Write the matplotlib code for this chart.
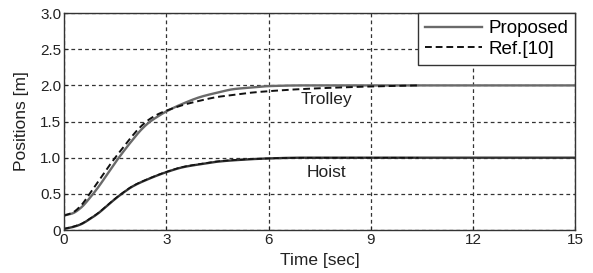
import matplotlib
matplotlib.use("Agg")
import matplotlib.pyplot as plt
import numpy as np

plt.rcParams['font.family'] = ['Liberation Sans', 'DejaVu Sans']

# Trolley - proposed
t_trolley_prop = [0, 0.25, 0.5, 0.75, 1, 1.25, 1.5, 1.75, 2, 2.25, 2.5, 2.75, 3, 3.5, 4, 4.5, 5, 5.5, 6, 7, 15]
y_trolley_prop = [0.2, 0.23, 0.31, 0.44, 0.59, 0.76, 0.93, 1.09, 1.24, 1.38, 1.49, 1.57, 1.64, 1.75, 1.84, 1.9, 1.95, 1.97, 1.99, 2.0, 2.0]
# Trolley - Ref.[10]
t_trolley_ref = [0, 0.25, 0.5, 0.75, 1, 1.25, 1.5, 1.75, 2, 2.25, 2.5, 2.75, 3, 3.5, 4, 4.5, 5, 5.5, 6, 7, 8, 9, 10.4]
y_trolley_ref = [0.2, 0.24, 0.34, 0.5, 0.67, 0.84, 1.0, 1.15, 1.3, 1.43, 1.53, 1.6, 1.65, 1.73, 1.79, 1.84, 1.87, 1.9, 1.92, 1.95, 1.97, 1.985, 2.0]
# Hoist - proposed
t_hoist_prop = [0, 0.25, 0.5, 0.75, 1, 1.25, 1.5, 1.75, 2, 2.5, 3, 3.5, 4, 4.5, 5, 6, 7, 15]
y_hoist_prop = [0.015, 0.04, 0.08, 0.15, 0.23, 0.33, 0.43, 0.52, 0.6, 0.71, 0.8, 0.87, 0.91, 0.945, 0.965, 0.99, 1.0, 1.0]
# Hoist - Ref.[10]
t_hoist_ref = [0, 0.25, 0.5, 0.75, 1, 1.25, 1.5, 1.75, 2, 2.5, 3, 3.5, 4, 4.5, 5, 6, 7, 10.4]
y_hoist_ref = [0.015, 0.045, 0.085, 0.155, 0.235, 0.335, 0.435, 0.525, 0.605, 0.715, 0.805, 0.875, 0.915, 0.95, 0.97, 0.99, 1.0, 1.0]

x_ticks = [0, 3, 6, 9, 12, 15]
y_ticks = [0, 0.5, 1.0, 1.5, 2.0, 2.5, 3.0]
y_ticklabels = ['0', '0.5', '1.0', '1.5', '2.0', '2.5', '3.0']


def smooth(t, y, n=500):
    t = np.asarray(t, float)
    y = np.asarray(y, float)
    tt = np.linspace(t[0], t[-1], n)
    h = np.diff(t)
    d = np.diff(y) / h
    m = np.zeros_like(y)
    m[0], m[-1] = d[0], d[-1]
    for i in range(1, len(y) - 1):
        if d[i - 1] * d[i] <= 0:
            m[i] = 0
        else:
            w1 = 2 * h[i] + h[i - 1]
            w2 = h[i] + 2 * h[i - 1]
            m[i] = (w1 + w2) / (w1 / d[i - 1] + w2 / d[i])
    idx = np.clip(np.searchsorted(t, tt) - 1, 0, len(t) - 2)
    hh = h[idx]
    s = (tt - t[idx]) / hh
    h00 = 2 * s**3 - 3 * s**2 + 1
    h10 = s**3 - 2 * s**2 + s
    h01 = -2 * s**3 + 3 * s**2
    h11 = s**3 - s**2
    yy = h00 * y[idx] + h10 * hh * m[idx] + h01 * y[idx + 1] + h11 * hh * m[idx + 1]
    return tt, yy


fig = plt.figure(figsize=(5.93, 2.73), dpi=100)
ax = fig.add_axes([0.108, 0.1575, 0.862, 0.7945])

l1, = ax.plot(*smooth(t_trolley_prop, y_trolley_prop), color='#6a6a6a', lw=1.7, label='Proposed')
l2, = ax.plot(*smooth(t_trolley_ref, y_trolley_ref), color='#111111', lw=1.4, ls=(0, (3.5, 2)), label='Ref.[10]')
ax.plot(*smooth(t_hoist_prop, y_hoist_prop), color='#333333', lw=1.7)
ax.plot(*smooth(t_hoist_ref, y_hoist_ref), color='#111111', lw=1.1, ls=(0, (3.5, 2)))

ax.set_xlim(0, 15)
ax.set_ylim(0, 3.0)
ax.set_xticks(x_ticks)
ax.set_xticklabels([str(v) for v in x_ticks])
ax.set_yticks(y_ticks)
ax.set_yticklabels(y_ticklabels)
ax.tick_params(direction='in', length=3, labelsize=11, colors='#222222', pad=2)
ax.grid(True, color='#333333', ls=(0, (3, 2.5)), lw=0.9)
for sp in ax.spines.values():
    sp.set_color('#333333')
    sp.set_linewidth(1.0)

ax.set_xlabel('Time [sec]', fontsize=12.5, labelpad=4.5, color='#222222')
ax.set_ylabel('Positions [m]', fontsize=12.5, labelpad=8, color='#222222')

ax.text(7.7, 1.8, 'Trolley', ha='center', va='center', fontsize=12.5, color='#222222')
ax.text(7.7, 0.79, 'Hoist', ha='center', va='center', fontsize=12.5, color='#222222')

leg = ax.legend(handles=[l1, l2], loc='upper right', borderaxespad=0, fancybox=False,
                framealpha=1, edgecolor='#333333', fontsize=13.5, handlelength=3.0,
                handletextpad=0.35, borderpad=0.38, labelspacing=0.18)
leg.get_frame().set_linewidth(1.0)

fig.savefig('out.png', dpi=100)
